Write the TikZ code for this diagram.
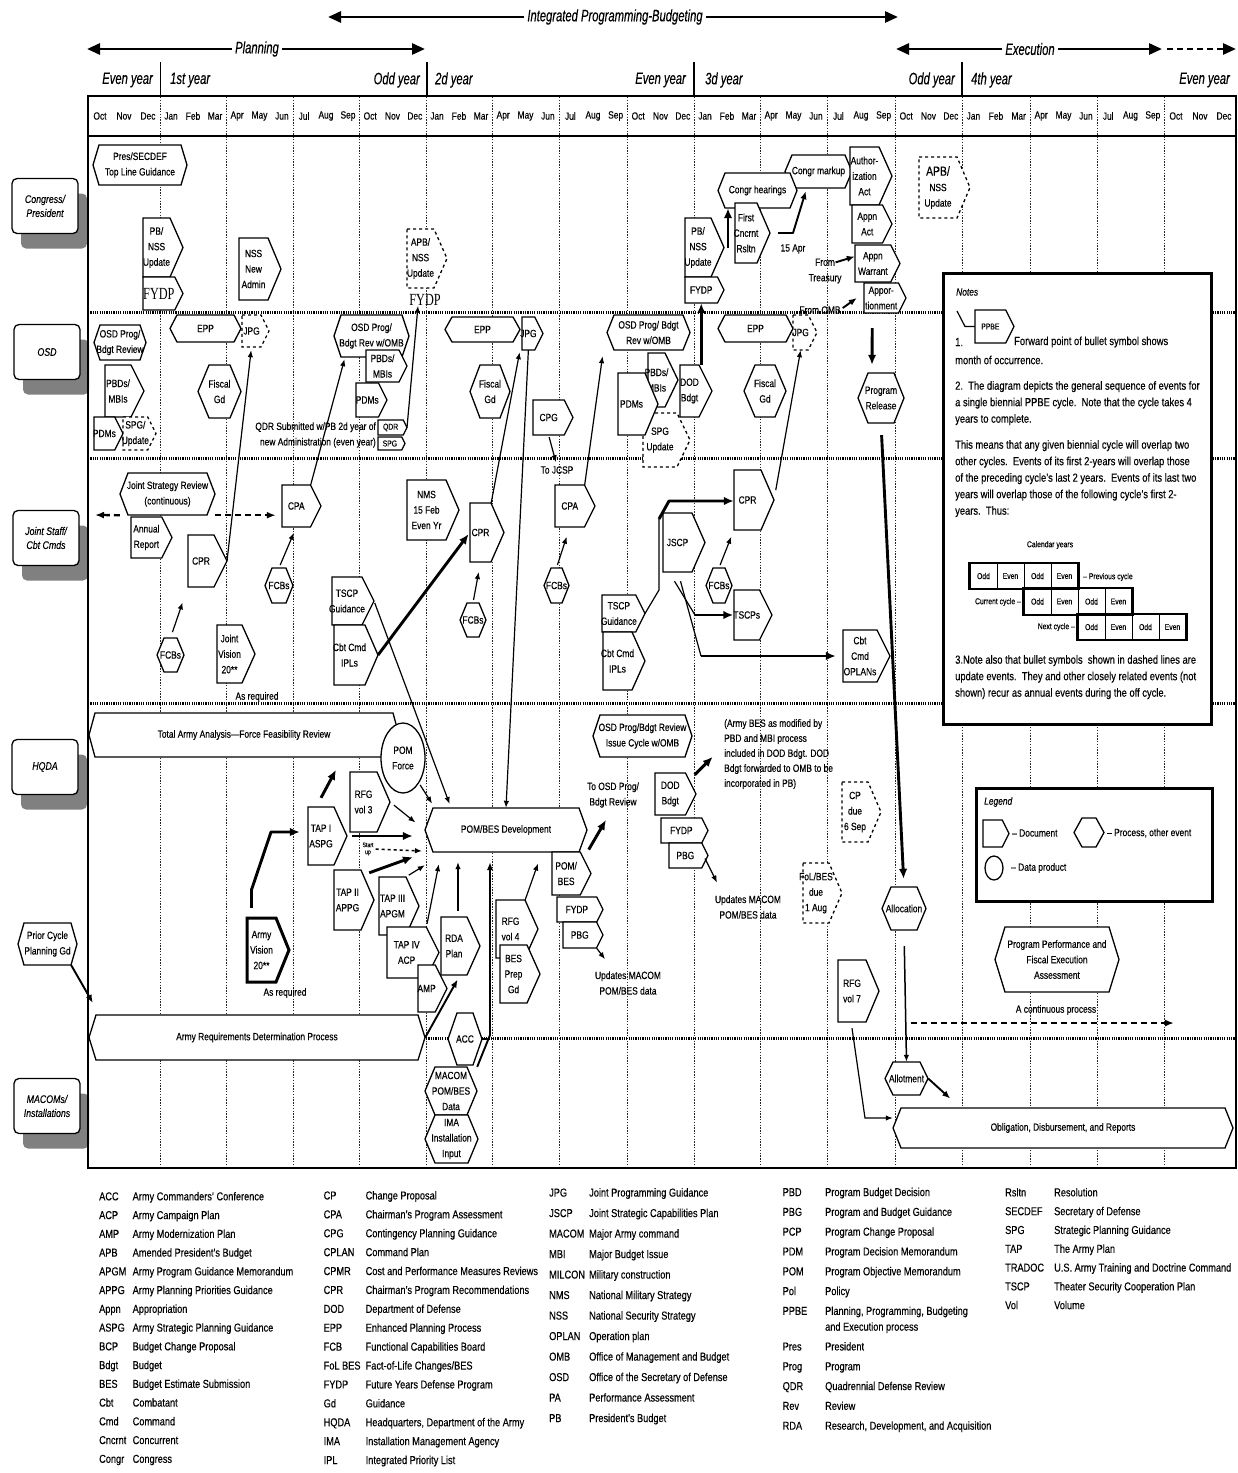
\documentclass[tikz,border=0pt]{standalone}
\usepackage{fontspec}
\setmainfont[FakeStretch=0.8,FakeBold=0.25]{Liberation Sans}
\newfontfamily\hfont[FakeStretch=0.68,FakeBold=0.25]{Liberation Sans}
\newfontfamily\serfont[FakeStretch=0.72]{Liberation Serif}
\usetikzlibrary{arrows.meta,shapes.geometric,shadows}

\newcommand\dfont{\fontsize{10.5}{15.5}\selectfont}
\newcommand\smf{\fontsize{8.5}{10}\selectfont}
\newcommand\tinyf{\fontsize{6.5}{7}\selectfont}
\newcommand\hdrf{\hfont\itshape\fontsize{16.5}{18}\selectfont}
\newcommand\lanef{\itshape\fontsize{11}{14}\selectfont}
\newcommand\fydpf{\serfont\fontsize{17}{18}\selectfont}
\newcommand\notef{\fontsize{11.7}{16.5}\selectfont}

\tikzset{
  docline/.style={draw=black, fill=white, line width=1.3pt, line join=miter},
  lbl/.style={align=center, inner sep=0pt, font=\dfont},
  txt/.style={align=center, inner sep=0pt, font=\dfont},
  arr/.style={-{Latex[length=7pt,width=5.5pt]}, line width=1.2pt},
  marr/.style={-{Latex[length=8pt,width=6.5pt]}, line width=1.9pt, line join=round},
  tarr/.style={-{Latex[length=10pt,width=8.5pt]}, line width=2.9pt, line join=round},
  darr/.style={-{Latex[length=9pt,width=7pt]}, line width=2.3pt, dash pattern=on 6pt off 4pt},
  hdrarr/.style={line width=2.7pt},
  grid/.style={line width=0.9pt, dash pattern=on 1.3pt off 1.5pt, black!85},
  lanesep/.style={line width=3pt, dash pattern=on 1.2pt off 1.1pt, black},
  lane/.style={draw, fill=white, rounded corners=5pt, line width=1.3pt, minimum width=66pt,
    minimum height=55pt, align=center, font=\lanef, inner sep=0pt,
    drop shadow={shadow xshift=9pt, shadow yshift=-15pt, fill=black!50, opacity=1}},
  mon/.style={font=\dfont, inner sep=0pt},
  yr/.style={font=\hdrf, inner sep=0pt},
  hdr/.style={font=\hdrf, inner sep=3pt, fill=white},
  bigbox/.style={draw, fill=white, line width=2.7pt, inner sep=0pt},
  notetxt/.style={inner sep=0pt, font=\notef, align=left},
  cell/.style={draw, line width=1pt, minimum width=27pt, minimum height=25.5pt, inner sep=0pt, font=\smf},
}

\newcommand\Doc[7][]{%
  \pgfmathsetmacro\dhh{#6-#4}%
  \pgfmathsetmacro\ddd{min(0.25*\dhh,13)}%
  \pgfmathsetmacro\dxs{#5-\ddd}%
  \pgfmathsetmacro\dym{(#4+#6)/2}%
  \pgfmathsetmacro\dxc{(#3+\dxs)/2}%
  \pgfmathsetmacro\dww{\dxs-#3}%
  \draw[docline,#1] (#3,#4) -- (\dxs,#4) -- (#5,\dym) -- (\dxs,#6) -- (#3,#6) -- cycle;
  \node[lbl, minimum width=\dww pt, minimum height=\dhh pt] (#2) at (\dxc,\dym) {#7};
  \coordinate (#2-tip) at (#5,\dym);
}
\newcommand\Hex[8][]{%
  \pgfmathsetmacro\dhh{#6-#4}%
  \pgfmathsetmacro\dww{#5-#3}%
  \pgfmathsetmacro\dym{(#4+#6)/2}%
  \pgfmathsetmacro\dxc{(#3+#5)/2}%
  \draw[docline,#1] (#3,\dym) -- ({#3+#7},#4) -- ({#5-#7},#4) -- (#5,\dym) -- ({#5-#7},#6) -- ({#3+#7},#6) -- cycle;
  \node[lbl, minimum width=\dww pt, minimum height=\dhh pt] (#2) at (\dxc,\dym) {#8};
}

\begin{document}
\begin{tikzpicture}[x=1pt,y=-1pt]
\useasboundingbox (0,0) rectangle (1238,1473);
\fill[white] (0,0) rectangle (1238,1473);

% ---------- header arrows ----------
\coordinate (ia) at (328,17); \coordinate (ib) at (898,17);
\draw[hdrarr, {Triangle[length=13pt,width=11pt]}-{Triangle[length=13pt,width=11pt]}] (ia) -- (ib);
\node[hdr] (tint) at (615,17) {Integrated Programming-Budgeting};
\coordinate (pa) at (87,49); \coordinate (pb) at (425,49);
\draw[hdrarr, {Triangle[length=13pt,width=11pt]}-{Triangle[length=13pt,width=11pt]}] (pa) -- (pb);
\node[hdr] (tplan) at (257,49) {Planning};
\coordinate (ea) at (896,49); \coordinate (eb) at (1162,49); \coordinate (ec) at (1236,49);
\draw[hdrarr, {Triangle[length=13pt,width=11pt]}-{Triangle[length=13pt,width=11pt]}] (ea) -- (eb);
\draw[hdrarr, dash pattern=on 6pt off 4pt, -{Triangle[length=13pt,width=11pt]}] ([xshift=5pt]eb) -- (ec);
\node[hdr] (texec) at (1030,49) {Execution};

% ---------- year row ----------
\draw[line width=1pt] (160,62) -- (160,96);
\draw[line width=2.2pt] (427,62) -- (427,96);
\draw[line width=1.6pt] (694,62) -- (694,96);
\draw[line width=1.2pt] (962,62) -- (962,96);
\node[yr, anchor=east] (y0) at (153,80) {Even year};
\node[yr, anchor=west] (y1) at (170,80) {1st year};
\node[yr, anchor=east] (y2) at (420,80) {Odd year};
\node[yr, anchor=west] (y3) at (435,80) {2d year};
\node[yr, anchor=east] (y4) at (686,80) {Even year};
\node[yr, anchor=west] (y5) at (705,80) {3d year};
\node[yr, anchor=east] (y6) at (955,80) {Odd year};
\node[yr, anchor=west] (y7) at (971,80) {4th year};
\node[yr, anchor=east] (y8) at (1230,80) {Even year};

% ---------- months ----------
\foreach \qa/\qb/\ma/\mb/\mc [count=\i] in {88/160/Oct/Nov/Dec,160/226/Jan/Feb/Mar,226/293/Apr/May/Jun,293/359/Jul/Aug/Sep,359/426/Oct/Nov/Dec,426/492/Jan/Feb/Mar,492/559/Apr/May/Jun,559/627/Jul/Aug/Sep,627/694/Oct/Nov/Dec,694/760/Jan/Feb/Mar,760/827/Apr/May/Jun,827/895/Jul/Aug/Sep,895/962/Oct/Nov/Dec,962/1030/Jan/Feb/Mar,1030/1097/Apr/May/Jun,1097/1164/Jul/Aug/Sep,1164/1236/Oct/Nov/Dec}{
  \node[mon] (moa\i) at ({\qa+(\qb-\qa)/6},116) {\ma};
  \node[mon] (mob\i) at ({\qa+(\qb-\qa)/2},116) {\mb};
  \node[mon] (moc\i) at ({\qa+5*(\qb-\qa)/6},116) {\mc};
}

% ---------- lane labels ----------
\node[lane] (lcong) at (45,206) {Congress/\\President};
\node[lane] (losd) at (47,352) {OSD};
\node[lane] (ljs) at (46,538) {Joint Staff/\\Cbt Cmds};
\node[lane] (lhq) at (45,767) {HQDA};
\node[lane] (lmac) at (47,1106) {MACOMs/\\Installations};

% ---------- grid ----------
\foreach \gx in {160,226,293,359,426,492,559,627,694,760,827,895,962,1030,1097,1164}
  \draw[grid] (\gx,97) -- (\gx,1168);
\foreach \gy in {312,458,703,1038}
  \draw[lanesep] (88,\gy) -- (1236,\gy);
\draw[line width=2.7pt] (88,96) rectangle (1236,1168);
\draw[line width=2.7pt] (88,136) -- (1236,136);

% ---------- notes box ----------
\node[bigbox, anchor=north west, minimum width=268pt, minimum height=451pt] (notes) at (942,272) {};
\node[inner sep=0pt, anchor=west, font=\itshape\dfont] (notest) at (956,292) {Notes};
\Doc{ppbe}{975}{310}{1014}{343}{\smf PPBE}
\coordinate (nl1) at (957,311); \coordinate (nl2) at (965,326.5);
\draw[line width=1.2pt] (nl1) -- (nl2) -- (ppbe.west);
\node[notetxt, anchor=west] (n1a) at (955,342) {1.};
\node[notetxt, anchor=west] (n1b) at (1014,342) {Forward point of bullet symbol shows};
\node[notetxt, anchor=west] (n1c) at (955,360) {month of occurrence.};
\node[notetxt, anchor=north west] (n2) at (955,381) {2.\ \ The diagram depicts the general sequence of events for\\a single biennial PPBE cycle.\ \ Note that the cycle takes 4\\years to complete.};
\node[notetxt, anchor=north west] (n3) at (955,440) {This means that any given biennial cycle will overlap two\\other cycles.\ \ Events of its first 2-years will overlap those\\of the preceding cycle's last 2 years.\ \ Events of its last two\\years will overlap those of the following cycle's first 2-\\years.\ \ Thus:};
\node[inner sep=0pt, font=\smf] (calyr) at (1050,545) {Calendar years};
\node[cell] (c11) at (983.5,576) {Odd};
\node[cell] (c12) at (1010.5,576) {Even};
\node[cell] (c13) at (1037.5,576) {Odd};
\node[cell] (c14) at (1064.5,576) {Even};
\node[cell] (c21) at (1037.5,601.5) {Odd};
\node[cell] (c22) at (1064.5,601.5) {Even};
\node[cell] (c23) at (1091.5,601.5) {Odd};
\node[cell] (c24) at (1118.5,601.5) {Even};
\node[cell] (c31) at (1091.5,627) {Odd};
\node[cell] (c32) at (1118.5,627) {Even};
\node[cell] (c33) at (1145.5,627) {Odd};
\node[cell] (c34) at (1172.5,627) {Even};
\draw[line width=2.4pt] (c11.north west) rectangle (c14.south east);
\draw[line width=2.4pt] (c21.north west) rectangle (c24.south east);
\draw[line width=2.4pt] (c31.north west) rectangle (c34.south east);
\node[inner sep=0pt, anchor=west, font=\smf] (prevc) at (1083,577) {-- Previous cycle};
\node[inner sep=0pt, anchor=east, font=\smf] (curc) at (1021,602) {Current cycle --};
\node[inner sep=0pt, anchor=east, font=\smf] (nextc) at (1075,627) {Next cycle --};
\node[notetxt, anchor=north west] (n4) at (955,655) {3.Note also that bullet symbols\ \ shown in dashed lines are\\update events.\ \ They and other closely related events (not\\shown) recur as annual events during the off cycle.};

% ---------- legend box ----------
\node[bigbox, anchor=north west, minimum width=236pt, minimum height=113pt] (legend) at (975,787) {};
\node[inner sep=0pt, anchor=west, font=\itshape\dfont] (legt) at (984,802) {Legend};
\Doc{ldoc}{983}{820}{1009}{847}{}
\node[txt, anchor=west] (ldoct) at (1012,833) {-- Document};
\Hex{lproc}{1074}{818}{1104}{847}{8}{}
\node[txt, anchor=west] (lproct) at (1107,833) {-- Process, other event};
\node[draw, ellipse, line width=1.3pt, minimum width=18pt, minimum height=24pt, inner sep=0pt] (lell) at (994,868) {};
\node[txt, anchor=west] (lellt) at (1011,868) {-- Data product};

% ================= Congress / President lane =================
\Hex{pres}{93}{145}{187}{185}{6}{Pres/SECDEF\\Top Line Guidance}
\Doc{pbnss1}{143}{218}{183}{277}{PB/\\NSS\\Update}
\Doc{fydp1}{143}{277}{183}{310}{\fydpf FYDP}
\Doc{nssnew}{239}{238}{281}{300}{NSS\\New\\Admin}
\Doc[dashed]{apb1}{407}{229}{447}{288}{APB/\\NSS\\Update}
\node[inner sep=0pt, font=\fydpf] (fydpt) at (425,300) {FYDP};
\Hex{markup}{785}{155}{852}{188}{7}{Congr markup}
\Hex{hear}{718}{173}{797}{208}{7}{Congr hearings}
\Doc{auth}{850}{147}{892}{205}{Author-\\ization\\Act}
\Doc{appnact}{852}{205}{892}{243}{Appn\\Act}
\Doc{warrant}{855}{245}{900}{282}{Appn\\Warrant}
\Doc{apport}{864}{283}{906}{313}{Appor-\\tionment}
\Doc{pbnss3}{685}{218}{724}{277}{PB/\\NSS\\Update}
\Doc{fydp3}{685}{277}{724}{303}{FYDP}
\Doc{first}{735}{203}{770}{263}{First\\Cncrnt\\Rsltn}
\Doc[dashed]{apb4}{919}{157}{970}{218}{\fontsize{13}{16}\selectfont APB/\\NSS\\Update}
\node[txt] (apr15) at (793,249) {15 Apr};
\node[txt] (treas) at (825,271) {From\\Treasury};
\node[txt] (fomb) at (820,310) {From OMB};

% ================= OSD lane =================
\Hex{osdrev1}{94}{325}{146}{360}{6}{OSD Prog/\\Bdgt Review}
\Doc{pbd1}{105}{365}{144}{417}{PBDs/\\MBIs}
\Doc{pdm1}{94}{417}{123}{450}{PDMs}
\Doc[dashed]{spg1}{123}{417}{156}{450}{SPG/\\Update}
\Hex{epp1}{170}{315}{241}{342}{7}{EPP}
\Doc[dashed]{jpg1}{242}{315}{269}{347}{JPG}
\Hex{fiscal1}{198}{365}{241}{418}{11}{Fiscal\\Gd}
\Hex{osdrev2}{334}{315}{409}{357}{7}{OSD Prog/\\Bdgt Rev w/OMB}
\Doc{pbd2}{366}{350}{407}{382}{PBDs/\\MBIs}
\Doc{pdm2}{356}{383}{387}{417}{PDMs}
\Doc{qdr}{378}{420}{407}{435}{\smf QDR}
\Doc{spg2}{378}{437}{405}{450}{\smf SPG}
\node[txt, align=right, anchor=east] (qdrtxt) at (376,435) {QDR Submitted w/PB 2d year of\\new Administration (even year)};
\Hex{epp2}{445}{317}{520}{342}{7}{EPP}
\Doc{jpg2}{522}{317}{543}{350}{JPG}
\Hex{fiscal2}{470}{365}{510}{418}{10}{Fiscal\\Gd}
\Doc{cpg}{533}{400}{573}{435}{CPG}
\Hex{osdrev3}{607}{315}{690}{350}{7}{OSD Prog/ Bdgt\\Rev w/OMB}
\Doc[dashed]{spg3}{643}{413}{690}{467}{SPG\\Update}
\Doc{pbd3}{648}{353}{678}{407}{PBDs/\\MBIs}
\Doc{pdm3}{618}{373}{658}{435}{PDMs}
\Doc{dodbdgt1}{680}{365}{712}{417}{DOD\\Bdgt}
\Hex{epp3}{718}{315}{793}{342}{7}{EPP}
\Doc[dashed]{jpg3}{793}{315}{817}{350}{JPG}
\Hex{fiscal3}{744}{365}{786}{417}{11}{Fiscal\\Gd}
\Hex{progrel}{858}{373}{904}{423}{10}{Program\\Release}

% ================= Joint Staff lane =================
\Hex{jsr}{120}{473}{215}{515}{8}{Joint Strategy Review\\(continuous)}
\Doc{annual}{131}{517}{172}{558}{Annual\\Report}
\Doc{cpr1}{188}{535}{227}{587}{CPR}
\Hex{fcb1}{157}{638}{184}{672}{7}{FCBs}
\Doc{jv}{217}{625}{255}{683}{Joint\\Vision\\20**}
\node[txt] (asreq1) at (257,697) {As required};
\Doc{cpa1}{282}{485}{321}{527}{CPA}
\Hex{fcb2}{265}{568}{293}{603}{7}{FCBs}
\Doc{tscp1}{332}{577}{374}{625}{TSCP\\Guidance}
\Doc{ipl1}{334}{625}{378}{685}{Cbt Cmd\\IPLs}
\Doc{nms}{407}{480}{459}{540}{NMS\\15 Feb\\Even Yr}
\Doc{cpr2}{470}{503}{504}{562}{CPR}
\Hex{fcb3}{460}{603}{486}{637}{7}{FCBs}
\Doc{cpa2}{555}{485}{595}{527}{CPA}
\Hex{fcb4}{544}{568}{569}{603}{7}{FCBs}
\node[txt] (tojcsp) at (557,470) {To JCSP};
\Doc{tscp3}{602}{595}{645}{632}{TSCP\\Guidance}
\Doc{ipl3}{603}{632}{645}{690}{Cbt Cmd\\IPLs}
\Doc{jscp}{663}{513}{705}{572}{JSCP}
\Doc{cpr3}{734}{470}{774}{530}{CPR}
\Hex{fcb5}{706}{568}{732}{603}{7}{FCBs}
\Doc{tscps}{734}{590}{772}{640}{TSCPs}
\Doc{oplan}{843}{630}{890}{682}{Cbt\\Cmd\\OPLANs}

% ================= HQDA lane =================
\Hex{taa}{89}{713}{399}{757}{6}{Total Army Analysis---Force Feasibility Review}
\node[draw, ellipse, fill=white, line width=1.3pt, minimum width=44pt, minimum height=70pt, lbl] (pomforce) at (403,758) {POM\\Force};
\Hex{pombes}{425}{808}{587}{852}{8}{POM/BES Development}
\Doc{rfg3}{350}{772}{390}{832}{RFG\\vol 3}
\Doc{tap1}{308}{807}{347}{865}{TAP I\\ASPG}
\Doc{tap2}{334}{870}{374}{930}{TAP II\\APPG}
\Doc{tap3}{379}{877}{419}{935}{TAP III\\APGM}
\Doc{tap4}{387}{927}{439}{978}{TAP IV\\ACP}
\Doc{amp}{418}{965}{447}{1012}{AMP}
\Doc{rda}{441}{917}{480}{975}{RDA\\Plan}
\Doc[line width=3pt]{av}{247}{918}{289}{982}{Army\\Vision\\20**}
\node[txt] (asreq2) at (285,993) {As required};
\node[txt, font=\tinyf] (startup) at (368,849) {Start\\up};
\Hex{armyreq}{89}{1015}{425}{1060}{7}{Army Requirements Determination Process}
\Doc{rfg4}{496}{900}{538}{958}{RFG\\vol 4}
\Doc{besprep}{500}{945}{540}{1003}{BES\\Prep\\Gd}
\Doc{pombes2}{552}{852}{591}{895}{POM/\\BES}
\Doc{fydp4}{557}{897}{603}{922}{FYDP}
\Doc{pbg1}{563}{922}{603}{948}{PBG}
\node[txt] (toosd) at (613,795) {To OSD Prog/\\Bdgt Review};
\node[txt] (upd1) at (628,983) {Updates MACOM\\POM/BES data};
\Hex{osdissue}{593}{715}{692}{757}{7}{OSD Prog/Bdgt Review\\Issue Cycle w/OMB}
\Doc{dodbdgt2}{655}{773}{696}{815}{DOD\\Bdgt}
\Doc{fydp5}{661}{818}{708}{843}{FYDP}
\Doc{pbg2}{669}{843}{708}{868}{PBG}
\node[txt, align=left, anchor=north west, font=\fontsize{10.5}{15}\selectfont] (armybes) at (724,719) {(Army BES as modified by\\PBD and MBI process\\included in DOD Bdgt. DOD\\Bdgt forwarded to OMB to be\\incorporated in PB)};
\node[txt] (upd2) at (748,907) {Updates MACOM\\POM/BES data};
\Doc[dashed]{cp}{842}{782}{881}{842}{CP\\due\\6 Sep}
\Doc[dashed]{fol}{803}{863}{842}{923}{FoL/BES\\due\\1 Aug}
\Hex{alloc}{882}{887}{926}{930}{9}{Allocation}
\Doc{rfg7}{838}{960}{879}{1022}{RFG\\vol 7}
\Hex{ppa}{995}{927}{1119}{992}{10}{Program Performance and\\Fiscal Execution\\Assessment}
\node[txt] (contproc) at (1056,1010) {A continuous process};
\Hex{prior}{18}{923}{77}{965}{6}{Prior Cycle\\Planning Gd}

% ================= MACOM lane =================
\Hex{acc}{448}{1013}{482}{1065}{9}{ACC}
\Hex{macdata}{425}{1067}{477}{1115}{10}{MACOM\\POM/BES\\Data}
\Hex{ima}{425}{1115}{478}{1163}{10}{IMA\\Installation\\Input}
\Hex{allot}{885}{1062}{928}{1095}{8}{Allotment}
\Hex{oblig}{893}{1108}{1233}{1148}{8}{Obligation, Disbursement, and Reports}

% ================= connectors =================
% Congress lane
\coordinate (hs) at ([xshift=4pt]pbnss3-tip);
\draw[tarr] (hs) -- (hs |- hear.south);
\coordinate (fr1) at (793,233);
\coordinate (mk) at ([xshift=21pt,yshift=-3pt]markup.south west);
\draw[marr, shorten <=8pt] (first-tip) -- (fr1) -- (mk);
\draw[marr] ([xshift=-6pt,yshift=-4pt]treas.north east) -- ([yshift=7pt]warrant.west);
\draw[marr] ([xshift=2pt,yshift=2pt]fomb.east) -- ([xshift=-7pt]apport.west);

% OSD lane
\draw[arr, shorten >=3pt] (cpr1-tip) -- (jpg1.south);
\draw[arr] (cpa1.north east) -- ([xshift=-27pt,yshift=-2pt]osdrev2.south);
\draw[arr] (qdr-tip) -- ([xshift=-7pt]fydpt.south);
\draw[arr, shorten >=2pt] (cpr2.north east) -- (jpg2.south west);
\draw[arr] (jpg2.south) -- (pombes.north);
\draw[arr, shorten >=2pt] (cpa2.north east) -- ([xshift=-4pt,yshift=-4pt]osdrev3.south west);
\draw[arr, shorten <=2pt, shorten >=4pt] (cpg.south) -- (tojcsp.north);
\coordinate (db) at (fydp3.south |- dodbdgt1.north);
\draw[tarr] (db) -- (fydp3.south);
\draw[arr, shorten <=10pt] (cpr3-tip) -- (jpg3.south);
\draw[tarr] ([xshift=-9pt,yshift=-15pt]apport.south) -- ([xshift=-9pt,yshift=8pt]progrel.north);
\draw[tarr, shorten <=12pt, shorten >=8pt] (progrel.south) -- (alloc.north);

% Joint Staff lane
\coordinate (jsrL) at (95,515);
\draw[darr] (jsr.south west) -- (jsrL);
\draw[darr, shorten >=6pt] (jsr.south east) -- (jsr.south east -| cpa1.west);
\draw[arr, shorten <=6pt, shorten >=16pt] (fcb1.north) -- (cpr1.south west);
\draw[arr, shorten <=3pt, shorten >=6pt] (fcb2.north) -- (cpa1.south);
\draw[arr, shorten <=3pt, shorten >=10pt] (fcb3.north) -- (cpr2.south);
\draw[arr, shorten <=3pt, shorten >=10pt] (fcb4.north) -- (cpa2.south);
\draw[arr, shorten <=3pt, shorten >=7pt] (fcb5.north) -- (cpr3.south west);
\draw[tarr, shorten >=2pt] (ipl1-tip) -- (cpr2.west);
\draw[arr, shorten <=2pt, shorten >=4pt] (tscp1-tip) -- ([xshift=-55pt]pombes.north);
\coordinate (t3a) at (659,590); \coordinate (t3b) at (659,519); \coordinate (t3c) at (669,501);
\draw[line width=1.2pt] (tscp3-tip) -- (t3a) -- (t3b);
\draw[tarr] (t3b) -- (t3c) -- (t3c -| cpr3.west);
\coordinate (j1) at (695,615); \coordinate (j2) at (701,656);
\draw[line width=1.2pt] ([xshift=-3pt,yshift=-9pt]jscp.south) -- (j1);
\draw[tarr] (j1) -- (j1 -| tscps.west);
\draw[line width=1.2pt] ([xshift=3pt,yshift=-9pt]jscp.south) -- (j2);
\draw[tarr, shorten >=7pt] (j2) -- (j2 -| oplan.west);

% HQDA lane
\draw[tarr] ([yshift=9pt]tap1.north) -- ++(15,-28);
\draw[arr, shorten <=2pt, shorten >=5pt] (pomforce.south east) -- ([xshift=10pt]pombes.north west);
\draw[arr, shorten <=5pt, shorten >=12pt] (rfg3-tip) -- (pombes.west);
\draw[tarr, shorten <=5pt, shorten >=12pt] (tap1-tip) -- (tap1-tip -| pombes.west);
\coordinate (su) at (422,851);
\draw[arr, dashed, line width=1.6pt, shorten <=2pt] (startup.east) -- (su);
\coordinate (p2) at (413,857);
\draw[tarr] ([xshift=8pt,yshift=-3pt]tap2.north east) -- (p2);
\draw[arr, shorten <=3pt] (tap3.north east) -- ([yshift=-13pt]pombes.south west);
\draw[arr, shorten <=3pt] (tap4.north east) -- ([xshift=14pt,yshift=-12pt]pombes.south west);
\coordinate (rn) at ([xshift=4pt]rda.north);
\draw[arr, shorten <=6pt, shorten >=10pt] (rn) -- (rn |- pombes.south);
\draw[marr, shorten >=5pt] (armyreq.east) -- ([xshift=6pt]rda.south);
\coordinate (mc1) at (490,1035);
\draw[marr, shorten >=10pt] (macdata.north east) -- (mc1) -- (mc1 |- pombes.south);
\draw[line width=1.2pt] (acc.east) -- (acc.east -| mc1);
\draw[arr, shorten >=12pt] (rfg4.north east) -- ([xshift=36pt]pombes.south);
\draw[tarr, shorten <=3pt, shorten >=14pt] (pombes.south east) -- (toosd.south);
\draw[arr] (pbg1.south east) -- ([xshift=-23pt,yshift=12pt]upd1.north);
\draw[tarr] ([xshift=9pt,yshift=-2pt]dodbdgt2.north east) -- ++(18,-18);
\draw[arr] ([xshift=-3pt,yshift=-3pt]pbg2-tip) -- ++(12,24);
\coordinate (r7) at (865,1118);
\draw[arr] ([yshift=-6pt]rfg7.south) -- (r7) -- (r7 -| oblig.west);
\draw[arr, line width=1.5pt, shorten <=16pt] (alloc.south) -- (allot.north);
\draw[marr] (allot.east) -- ++(22,20);
\coordinate (cont1) at (911,1023); \coordinate (cont2) at (1174,1023);
\draw[darr] (cont1) -- (cont2);
\draw[marr] ([xshift=-6pt]prior.south east) -- ([xshift=4pt,yshift=12pt]armyreq.north west);
\coordinate (av1) at ([xshift=-10pt,yshift=10pt]av.north);
\coordinate (av2) at (271,832);
\draw[tarr, shorten >=8pt] (av1) -- ++(0,-18) -- (av2) -- (av2 -| tap1.west);

% ================= abbreviations =================
\node[inner sep=0pt, anchor=north west, font=\fontsize{11.5}{18.75}\selectfont] (ab1) at (99,1187) {%
\begin{tabular}{@{}p{33.5pt}@{}l@{}}
ACC & Army Commanders' Conference\\
ACP & Army Campaign Plan\\
AMP & Army Modernization Plan\\
APB & Amended President's Budget\\
APGM & Army Program Guidance Memorandum\\
APPG & Army Planning Priorities Guidance\\
Appn & Appropriation\\
ASPG & Army Strategic Planning Guidance\\
BCP & Budget Change Proposal\\
Bdgt & Budget\\
BES & Budget Estimate Submission\\
Cbt & Combatant\\
Cmd & Command\\
Cncrnt & Concurrent\\
Congr & Congress
\end{tabular}};
\node[inner sep=0pt, anchor=north west, font=\fontsize{11.5}{18.9}\selectfont] (ab2) at (323.5,1186) {%
\begin{tabular}{@{}p{42pt}@{}l@{}}
CP & Change Proposal\\
CPA & Chairman's Program Assessment\\
CPG & Contingency Planning Guidance\\
CPLAN & Command Plan\\
CPMR & Cost and Performance Measures Reviews\\
CPR & Chairman's Program Recommendations\\
DOD & Department of Defense\\
EPP & Enhanced Planning Process\\
FCB & Functional Capabilities Board\\
FoL BES & Fact-of-Life Changes/BES\\
FYDP & Future Years Defense Program\\
Gd & Guidance\\
HQDA & Headquarters, Department of the Army\\
IMA & Installation Management Agency\\
IPL & Integrated Priority List
\end{tabular}};
\node[inner sep=0pt, anchor=north west, font=\fontsize{11.5}{20.5}\selectfont] (ab3) at (549,1182) {%
\begin{tabular}{@{}p{40pt}@{}l@{}}
JPG & Joint Programming Guidance\\
JSCP & Joint Strategic Capabilities Plan\\
MACOM & Major Army command\\
MBI & Major Budget Issue\\
MILCON & Military construction\\
NMS & National Military Strategy\\
NSS & National Security Strategy\\
OPLAN & Operation plan\\
OMB & Office of Management and Budget\\
OSD & Office of the Secretary of Defense\\
PA & Performance Assessment\\
PB & President's Budget
\end{tabular}};
\node[inner sep=0pt, anchor=north west, font=\fontsize{11.5}{19.8}\selectfont] (ab4) at (782.5,1182) {%
\begin{tabular}{@{}p{42.5pt}@{}l@{}}
PBD & Program Budget Decision\\
PBG & Program and Budget Guidance\\
PCP & Program Change Proposal\\
PDM & Program Decision Memorandum\\
POM & Program Objective Memorandum\\
Pol & Policy\\
PPBE & Planning, Programming, Budgeting\\[-4pt]
 & and Execution process\\
Pres & President\\
Prog & Program\\
QDR & Quadrennial Defense Review\\
Rev & Review\\
RDA & Research, Development, and Acquisition
\end{tabular}};
\node[inner sep=0pt, anchor=north west, font=\fontsize{11.5}{18.8}\selectfont] (ab5) at (1005,1183) {%
\begin{tabular}{@{}p{49pt}@{}l@{}}
Rsltn & Resolution\\
SECDEF & Secretary of Defense\\
SPG & Strategic Planning Guidance\\
TAP & The Army Plan\\
TRADOC & U.S. Army Training and Doctrine Command\\
TSCP & Theater Security Cooperation Plan\\
Vol & Volume
\end{tabular}};
\end{tikzpicture}
\end{document}
